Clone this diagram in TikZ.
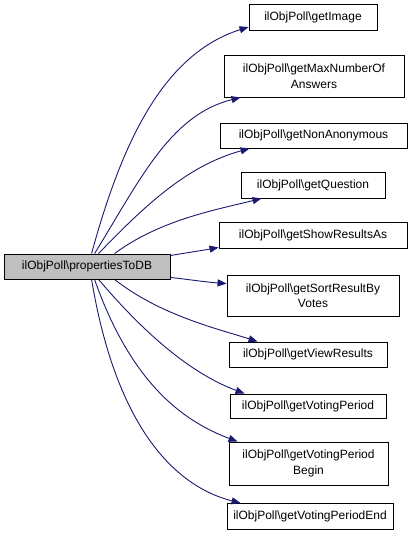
\documentclass[tikz,border=0pt]{standalone}
\usepackage{fontspec}
\setmainfont{Liberation Sans}
\usetikzlibrary{arrows.meta}
\definecolor{edgeblue}{HTML}{191970}
\definecolor{srcgray}{HTML}{BFBFBF}
\tikzset{
  fnbox/.style={draw=black, line width=0.9pt, fill=white, inner sep=0pt, align=center,
    font=\fontsize{12pt}{15.5pt}\selectfont},
  srcbox/.style={fnbox, fill=srcgray},
  calledge/.style={draw=edgeblue, line width=0.9pt, -{Triangle[length=9pt,width=7pt]}, fill=none},
}
\begin{document}
\begin{tikzpicture}[x=1pt,y=-1pt]
\useasboundingbox (0,0) rectangle (413,541);
\node[srcbox, minimum width=166pt, minimum height=25pt] (src) at (87,266.5) {ilObjPoll\textbackslash propertiesToDB};
\node[fnbox, minimum width=128pt, minimum height=26pt] (t1) at (313,17.5) {ilObjPoll\textbackslash getImage};
\node[fnbox, minimum width=180pt, minimum height=42pt] (t2) at (314,76) {ilObjPoll\textbackslash getMaxNumberOf\\Answers};
\node[fnbox, minimum width=187pt, minimum height=25pt] (t3) at (313.5,135.5) {ilObjPoll\textbackslash getNonAnonymous};
\node[fnbox, minimum width=144pt, minimum height=26pt] (t4) at (313,185) {ilObjPoll\textbackslash getQuestion};
\node[fnbox, minimum width=188pt, minimum height=26pt] (t5) at (313,235) {ilObjPoll\textbackslash getShowResultsAs};
\node[fnbox, minimum width=172pt, minimum height=41pt] (t6) at (313,295.5) {ilObjPoll\textbackslash getSortResultBy\\Votes};
\node[fnbox, minimum width=158pt, minimum height=25pt] (t7) at (308,354.5) {ilObjPoll\textbackslash getViewResults};
\node[fnbox, minimum width=156pt, minimum height=24pt] (t8) at (308,406) {ilObjPoll\textbackslash getVotingPeriod};
\node[fnbox, minimum width=159pt, minimum height=43pt] (t9) at (308.5,463.5) {ilObjPoll\textbackslash getVotingPeriod\\Begin};
\node[fnbox, minimum width=166pt, minimum height=26pt] (t10) at (310,516.5) {ilObjPoll\textbackslash getVotingPeriodEnd};

\draw[calledge] ([xshift=88pt]src.north west) .. controls (120,150) and (160,55) .. ([yshift=-9.5pt]t1.west);
\draw[calledge] ([xshift=91pt]src.north west) .. controls (140,180) and (170,115) .. ([xshift=17pt]t2.south west);
\draw[calledge] ([xshift=95pt]src.north west) .. controls (150,200) and (190,165) .. ([xshift=30pt]t3.south west);
\draw[calledge] ([xshift=111pt]src.north west) .. controls (160,220) and (215,210) .. ([xshift=21pt]t4.south west);
\draw[calledge] ([yshift=-2pt]src.north east) .. controls (185,253) and (205,250) .. ([yshift=1pt]t5.south west);
\draw[calledge] ([yshift=2pt]src.south east) .. controls (185,279) and (205,282) .. ([yshift=-9pt]t6.north west);
\draw[calledge] ([xshift=111pt]src.south west) .. controls (160,315) and (215,328) .. ([xshift=29pt]t7.north west);
\draw[calledge] ([xshift=95pt]src.south west) .. controls (150,340) and (195,375) .. ([xshift=15pt]t8.north west);
\draw[calledge] ([xshift=91pt]src.south west) .. controls (130,380) and (180,420) .. ([xshift=9pt]t9.north west);
\draw[calledge] ([xshift=88pt]src.south west) .. controls (115,420) and (170,485) .. ([xshift=14pt]t10.north west);
\end{tikzpicture}
\end{document}
